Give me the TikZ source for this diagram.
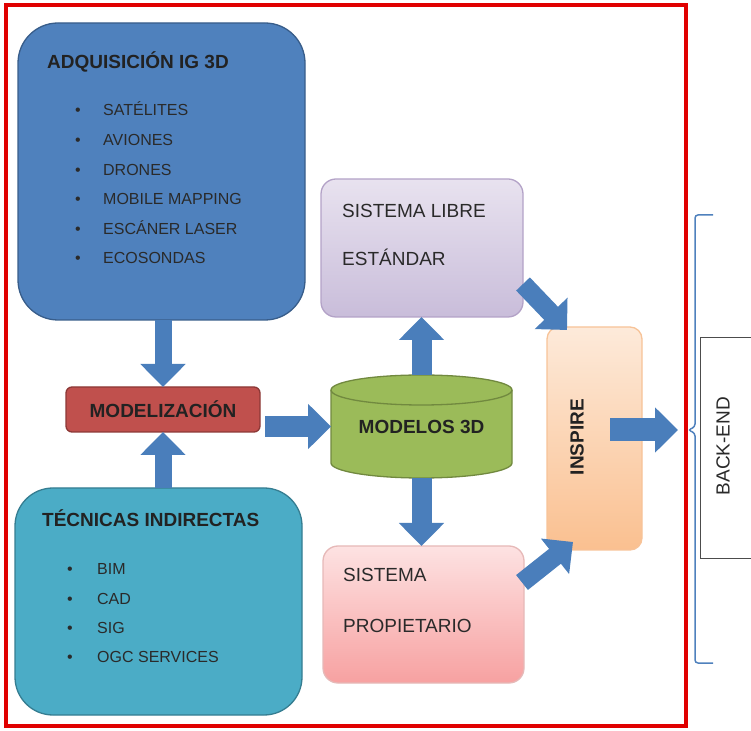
\documentclass[tikz,border=0pt]{standalone}
\usepackage{fontspec}
\setmainfont{Liberation Sans}
\usetikzlibrary{arrows.meta,backgrounds}
\definecolor{frame}{HTML}{E00000}
\definecolor{adqfill}{HTML}{4F81BD}
\definecolor{adqline}{HTML}{385D8A}
\definecolor{tecfill}{HTML}{4BACC6}
\definecolor{tecline}{HTML}{357D91}
\definecolor{modfill}{HTML}{C0504D}
\definecolor{modline}{HTML}{8C3836}
\definecolor{cylfill}{HTML}{9BBB59}
\definecolor{cylline}{HTML}{71893F}
\definecolor{libtop}{HTML}{E8E2EF}
\definecolor{libbot}{HTML}{C9BDDA}
\definecolor{libline}{HTML}{B3A2C7}
\definecolor{proptop}{HTML}{FDE2E2}
\definecolor{propbot}{HTML}{F7A1A1}
\definecolor{propline}{HTML}{E6B9B8}
\definecolor{instop}{HTML}{FDEADA}
\definecolor{insbot}{HTML}{FAC090}
\definecolor{insline}{HTML}{F7C398}
\definecolor{arrowblue}{HTML}{4A7EBB}
\definecolor{txt}{HTML}{2A2A2A}

\tikzset{
  bigbox/.style={rectangle, rounded corners=#1, line width=1.3pt, inner sep=0pt, outer sep=0pt},
  title/.style={font=\fontsize{19}{22}\selectfont\bfseries, text=txt!80!black, inner sep=0pt, anchor=base west},
  item/.style={font=\fontsize{16}{19}\selectfont, text=txt, inner sep=0pt, anchor=base west},
  boxtext/.style={font=\fontsize{19}{22}\selectfont, text=txt, inner sep=0pt, anchor=base west},
  bigarrow/.style={arrowblue, line width=#1, -{Triangle[length=23pt,width=44pt]}},
  bigarrow/.default=18pt
}

\begin{document}
\begin{tikzpicture}[x=1pt,y=1pt]
\useasboundingbox (0,0) rectangle (751,730);
\draw [frame, line width=4pt] (6,4) rectangle (685.5,724.5);

\node [bigbox=40pt, fill=adqfill, draw=adqline, minimum width=287, minimum height=297] (adq) at (161.5,558.5) {};
\node [title] (adqtitle) at (47,661) {ADQUISICIÓN IG 3D};
\foreach \t [count=\i from 0] in {SATÉLITES, AVIONES, DRONES, MOBILE MAPPING, ESCÁNER LASER, ECOSONDAS}
  \node [item] (adqitem\i) at (75,{614-29.6*\i}) {\makebox[28pt][l]{\textbullet}\t};

\node [bigbox=38pt, fill=tecfill, draw=tecline, minimum width=287, minimum height=227] (tec) at (158.5,128.5) {};
\node [title] (tectitle) at (42,203) {TÉCNICAS INDIRECTAS};
\foreach \t [count=\i from 0] in {BIM, CAD, SIG, OGC SERVICES}
  \node [item] (tecitem\i) at (67,{155-29.3*\i}) {\makebox[30pt][l]{\textbullet}\t};

\node [bigbox=6pt, fill=modfill, draw=modline, minimum width=194, minimum height=45,
       font=\fontsize{19}{22}\selectfont\bfseries, text=txt!80!black] (model) at (163,320.5) {MODELIZACIÓN};

\node [inner sep=0pt, outer sep=0pt, minimum width=181, minimum height=103,
       font=\fontsize{19}{22}\selectfont\bfseries, text=txt!80!black] (m3d) at (421.5,303.5) {MODELOS 3D};
\begin{scope}[on background layer]
\draw [fill=cylfill, draw=cylline, line width=1.3pt] ([yshift=-15pt]m3d.north west) -- ([yshift=15pt]m3d.south west)
  arc [start angle=180, end angle=360, x radius=90.5, y radius=15] -- ([yshift=-15pt]m3d.north east)
  arc [start angle=0, end angle=180, x radius=90.5, y radius=15] -- cycle;
\draw [cylline, line width=1.3pt] ([yshift=-15pt]m3d.north west) arc [start angle=180, end angle=360, x radius=90.5, y radius=15];
\end{scope}

\node [bigbox=15pt, top color=libtop, bottom color=libbot, draw=libline, minimum width=202, minimum height=138] (libre) at (422,482) {};
\node [boxtext] (libre1) at (342,512) {SISTEMA LIBRE};
\node [boxtext] (libre2) at (342,464) {ESTÁNDAR};

\node [bigbox=15pt, top color=proptop, bottom color=propbot, draw=propline, minimum width=201, minimum height=137] (prop) at (423.5,115.5) {};
\node [boxtext] (prop1) at (343,148) {SISTEMA};
\node [boxtext] (prop2) at (343,97) {PROPIETARIO};

\node [bigbox=12pt, top color=instop, bottom color=insbot, draw=insline, minimum width=95, minimum height=223] (inspire) at (594.5,291.5) {};
\node [rotate=90, inner sep=0pt, font=\fontsize{19}{22}\selectfont\bfseries, text=txt!80!black] (inspirelbl) at (577,293) {INSPIRE};

\draw [black!70, line width=0.8pt] (751,393) -- (700,393) -- (700,172) -- (751,172);
\node [rotate=90, inner sep=0pt, font=\fontsize{19}{22}\selectfont, text=txt] (backend) at (723,284) {BACK-END};

\coordinate (brace) at (688,300);
\draw [adqfill, line width=1.5pt, rounded corners=3pt] (713,515) -| (695,303) -- (brace) -- (695,297) |- (713,67);

\draw [bigarrow=17pt] (adq.south -| model.north) -- (model.north);
\draw [bigarrow=17pt] (tec.north -| model.south) -- (model.south);
\draw [bigarrow=21pt, shorten <=5pt] (model.east |- m3d.west) -- (m3d.west);
\draw [bigarrow=20pt] (m3d.north) -- (m3d.north |- libre.south);
\draw [bigarrow=20pt] (m3d.south) -- (m3d.south |- prop.north);
\draw [bigarrow=19pt] ([yshift=-36pt]libre.east) -- ([xshift=20pt,yshift=-3pt]inspire.north west);
\draw [bigarrow=19pt] ([xshift=-2pt,yshift=32pt]prop.east) -- ([xshift=26pt,yshift=8pt]inspire.south west);
\draw [bigarrow=23pt] ([xshift=-32pt]inspire.east |- brace) -- ([xshift=-10pt]brace);
\end{tikzpicture}
\end{document}
